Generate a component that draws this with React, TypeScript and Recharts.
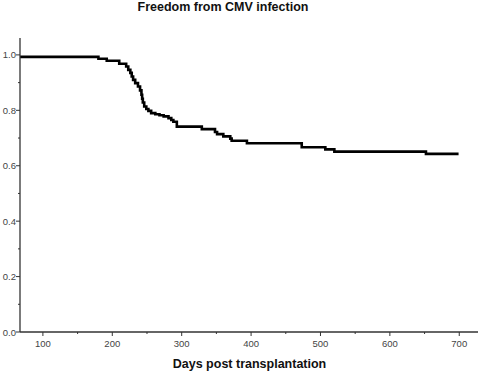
import React from "react";
import { Line, LineChart, XAxis, YAxis } from "recharts";

const days = [
  67, 180, 192, 210, 220, 223, 226, 228, 230, 233, 237, 240, 242, 243, 244,
  246, 249, 252, 256, 262, 268, 274, 281, 285, 288, 293, 329, 348, 351, 360,
  370, 372, 394, 473, 507, 520, 652, 699,
];
const survival = [
  0.993, 0.986, 0.979, 0.968, 0.958, 0.946, 0.935, 0.922, 0.91, 0.898, 0.886,
  0.872, 0.856, 0.842, 0.828, 0.814, 0.805, 0.798, 0.79, 0.786, 0.782, 0.778,
  0.772, 0.765, 0.759, 0.741, 0.732, 0.722, 0.714, 0.706, 0.698, 0.69, 0.681,
  0.667, 0.659, 0.651, 0.643, 0.643,
];
const xTicks = [100, 150, 200, 250, 300, 350, 400, 450, 500, 550, 600, 650, 700];
const yTicks = [0, 0.1, 0.2, 0.3, 0.4, 0.5, 0.6, 0.7, 0.8, 0.9, 1.0];

const data = days.map((d, i) => ({ day: d, surv: survival[i] }));

const FONT = "'Liberation Sans', Arial, sans-serif";

function XTick(props: any) {
  const { x, y, payload } = props;
  const major = payload.value % 100 === 0;
  const axisY = y - 4 - 2;
  return (
    <g>
      <line x1={x} x2={x} y1={axisY} y2={axisY + (major ? 4 : 2)} stroke="#333" />
      {major && (
        <text x={x} y={axisY + 15} textAnchor="middle" fontSize={9.5} fill="#444" fontFamily={FONT}>
          {payload.value}
        </text>
      )}
    </g>
  );
}

function YTick(props: any) {
  const { x, y, payload } = props;
  const v = Math.round(payload.value * 10);
  const major = v % 2 === 0;
  const axisX = x + 4 + 1;
  return (
    <g>
      <line x1={axisX} x2={axisX - (major ? 4 : 2)} y1={y} y2={y} stroke="#333" />
      {major && (
        <text x={axisX - 4} y={y + 3.5} textAnchor="end" fontSize={9.5} fill="#444" fontFamily={FONT}>
          {(v / 10).toFixed(1)}
        </text>
      )}
    </g>
  );
}

export default function App() {
  return (
    <div style={{ position: "absolute", left: 0, top: 0, width: 480, height: 372, background: "#fff" }}>
      <div
        style={{
          position: "absolute",
          left: 0,
          top: 0,
          width: 446,
          textAlign: "center",
          fontFamily: FONT,
          fontWeight: "bold",
          fontSize: 12.5,
          color: "#111",
        }}
      >
        Freedom from CMV infection
      </div>
      <div
        style={{
          position: "absolute",
          left: 0,
          top: 357,
          width: 499,
          textAlign: "center",
          fontFamily: FONT,
          fontWeight: "bold",
          fontSize: 12.5,
          color: "#111",
        }}
      >
        Days post transplantation
      </div>
      <LineChart width={480} height={372} data={data} margin={{ top: 38, right: 2, left: 0, bottom: 0 }}>
        <XAxis
          xAxisId="bottom"
          dataKey="day"
          type="number"
          domain={[67, 727]}
          ticks={xTicks}
          interval={0}
          height={40}
          tickSize={4}
          tickMargin={2}
          tickLine={false}
          tick={<XTick />}
          axisLine={{ stroke: "#333", strokeWidth: 1.3 }}
        />
        <XAxis
          xAxisId="top"
          orientation="top"
          dataKey="day"
          type="number"
          domain={[67, 727]}
          height={0}
          tick={false}
          tickLine={false}
          axisLine={{ stroke: "#888" }}
        />
        <YAxis
          yAxisId="left"
          type="number"
          domain={[0, 1.061]}
          ticks={yTicks}
          interval={0}
          width={20}
          tickSize={4}
          tickMargin={1}
          tickLine={false}
          tick={<YTick />}
          axisLine={{ stroke: "#333", strokeWidth: 1.3 }}
        />
        <YAxis
          yAxisId="right"
          orientation="right"
          type="number"
          domain={[0, 1.061]}
          width={0}
          tick={false}
          tickLine={false}
          axisLine={{ stroke: "#888" }}
        />
        <Line
          xAxisId="bottom"
          yAxisId="left"
          dataKey="surv"
          type="stepAfter"
          stroke="#000"
          strokeWidth={2.6}
          dot={false}
          isAnimationActive={false}
        />
      </LineChart>
    </div>
  );
}
